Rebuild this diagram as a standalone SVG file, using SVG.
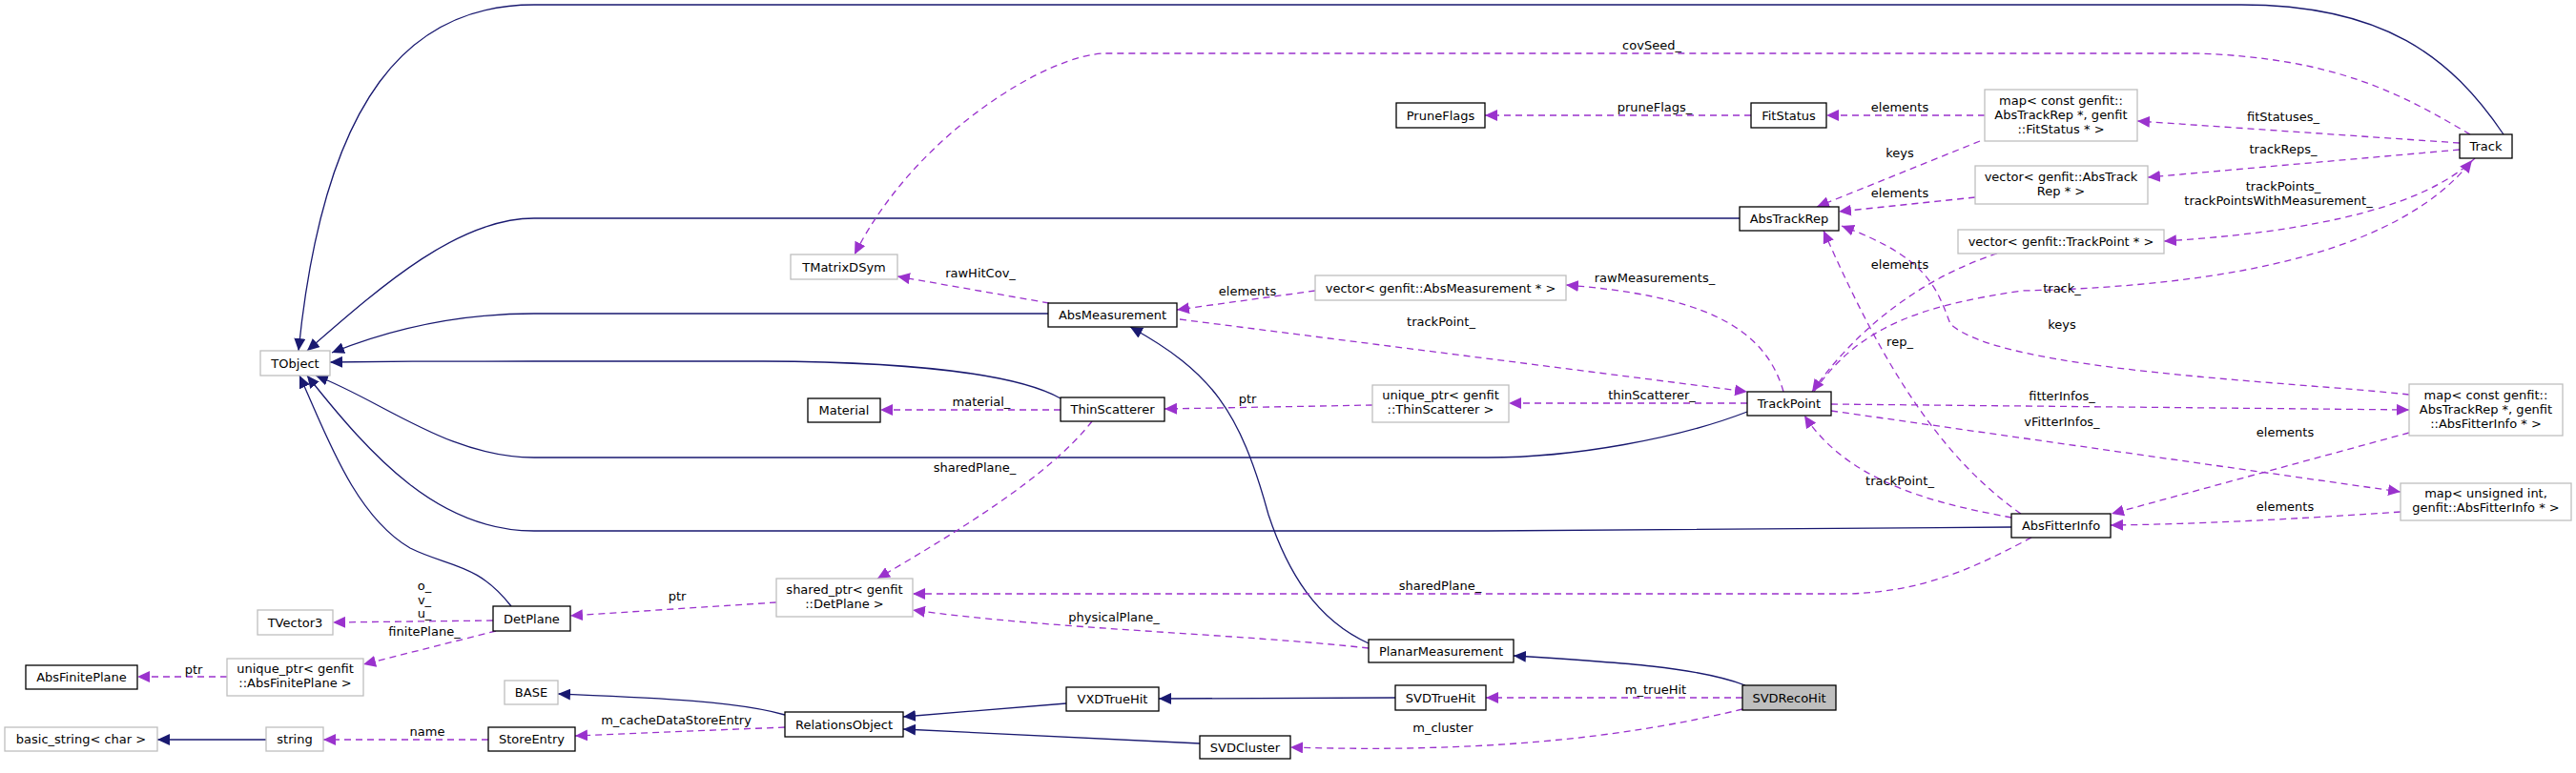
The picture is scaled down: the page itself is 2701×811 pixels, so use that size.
<svg xmlns="http://www.w3.org/2000/svg" width="2701" height="811" viewBox="0 0 2701 811">
<style>
text{font-family:"DejaVu Sans","Liberation Sans",sans-serif;font-size:13px;fill:#000;text-anchor:middle}
.n rect{fill:#fff;stroke:#000;stroke-width:1.3}
.g rect{fill:#fff;stroke:#bfbfbf;stroke-width:1.3}
.h rect{fill:#bfbfbf;stroke:#000;stroke-width:1.3}
.i{fill:none;stroke:#191970;stroke-width:1.3;marker-end:url(#ai)}
.c{fill:none;stroke:#9a32cd;stroke-width:1.3;stroke-dasharray:7,5;marker-end:url(#ac)}
.l{font-size:13px}
</style>
<defs>
<marker id="ai" markerUnits="userSpaceOnUse" markerWidth="14" markerHeight="12" refX="13" refY="6" orient="auto"><path d="M0,0L13,6L0,12z" fill="#191970"/></marker>
<marker id="ac" markerUnits="userSpaceOnUse" markerWidth="14" markerHeight="12" refX="13" refY="6" orient="auto"><path d="M0,0L13,6L0,12z" fill="#9a32cd"/></marker>
</defs>
<rect width="2701" height="811" fill="#fff"/>
<g id="edges">
<path class="i" d="M2625,141C2570,60 2500,5 2350,5L560,5C430,5 340,100 313,368"/>
<path class="i" d="M1824,229L560,229C480,229 400,300 322,368"/>
<path class="i" d="M1099,329L560,329C480,329 410,345 348,370"/>
<path class="i" d="M1112,418C1080,400 1000,380 800,379L560,379C480,379 420,379 346,380"/>
<path class="i" d="M1832,432C1760,460 1650,480 1560,480L560,480C470,480 400,420 331,394"/>
<path class="i" d="M2109,553L1560,557L560,557C460,557 390,480 322,394"/>
<path class="i" d="M536,636C500,590 470,595 430,575C370,540 340,450 314,394"/>
<path class="i" d="M1435,675C1380,650 1350,600 1330,540C1300,430 1270,390 1185,343"/>
<path class="i" d="M1830,719C1780,700 1700,695 1587,688"/>
<path class="i" d="M1463,732L1215,733"/>
<path class="i" d="M1118,738L947,752"/>
<path class="i" d="M1258,780L947,765"/>
<path class="i" d="M823,750C770,735 680,732 585,728"/>
<path class="i" d="M279,776L165,776"/>

<path class="c" d="M2590,141C2520,100 2450,60 2300,56L1160,56C1100,56 960,140 896,267"/>
<path class="c" d="M1836,121L1557,121"/>
<path class="c" d="M2081,121L1915,121"/>
<path class="c" d="M2076,148L1905,217"/>
<path class="c" d="M2579,150L2241,127"/>
<path class="c" d="M2579,157L2252,186"/>
<path class="c" d="M2071,207L1928,222"/>
<path class="c" d="M2595,166C2560,200 2480,240 2269,253"/>
<path class="c" d="M1902,411C1950,340 2020,320 2120,305C2350,300 2520,260 2592,168"/>
<path class="c" d="M2094,266C2020,290 1950,340 1900,411"/>
<path class="c" d="M1100,318L941,290"/>
<path class="c" d="M1379,305L1234,325"/>
<path class="c" d="M1870,411C1850,340 1780,310 1642,299"/>
<path class="c" d="M1237,335L1832,411"/>
<path class="c" d="M1832,423L1582,423"/>
<path class="c" d="M1439,425L1221,429"/>
<path class="c" d="M1112,430L923,430"/>
<path class="c" d="M1145,442C1100,500 1000,560 920,607"/>
<path class="c" d="M2526,414C2400,400 2100,390 2045,340C2030,300 2020,270 1931,237"/>
<path class="c" d="M1920,424L2526,430"/>
<path class="c" d="M1920,431L2517,516"/>
<path class="c" d="M2526,454L2214,539"/>
<path class="c" d="M2517,537C2400,545 2300,550 2213,551"/>
<path class="c" d="M2109,543C2040,530 1940,510 1892,436"/>
<path class="c" d="M2119,539C2020,470 1960,350 1912,242"/>
<path class="c" d="M2130,564C2080,590 2020,623 1930,623L957,623"/>
<path class="c" d="M1435,680C1300,665 1100,660 957,640"/>
<path class="c" d="M814,632L598,646"/>
<path class="c" d="M517,651L349,653"/>
<path class="c" d="M520,662L381,697"/>
<path class="c" d="M238,710L144,710"/>
<path class="c" d="M512,776L339,776"/>
<path class="c" d="M823,763L603,772"/>
<path class="c" d="M1827,732L1558,732"/>
<path class="c" d="M1827,744C1700,775 1550,790 1353,784"/>
</g>
<g id="labels">
<text x="1732" y="52">covSeed_</text>
<text x="1735" y="117">pruneFlags_</text>
<text x="1992" y="117">elements</text>
<text x="1992" y="165">keys</text>
<text x="1992" y="207">elements</text>
<text x="2394" y="127">fitStatuses_</text>
<text x="2394" y="161">trackReps_</text>
<text x="2394" y="200">trackPoints_</text>
<text x="2389" y="215">trackPointsWithMeasurement_</text>
<text x="1992" y="282">elements</text>
<text x="2162" y="307">track_</text>
<text x="2162" y="345">keys</text>
<text x="1992" y="363">rep_</text>
<text x="1028" y="291">rawHitCov_</text>
<text x="1308" y="310">elements</text>
<text x="1735" y="296">rawMeasurements_</text>
<text x="1511" y="342">trackPoint_</text>
<text x="1029" y="426">material_</text>
<text x="1308" y="423">ptr</text>
<text x="1732" y="419">thinScatterer_</text>
<text x="1022" y="495">sharedPlane_</text>
<text x="2162" y="420">fitterInfos_</text>
<text x="2162" y="447">vFitterInfos_</text>
<text x="2396" y="458">elements</text>
<text x="1992" y="509">trackPoint_</text>
<text x="2396" y="536">elements</text>
<text x="1510" y="619">sharedPlane_</text>
<text x="1168" y="652">physicalPlane_</text>
<text x="710" y="630">ptr</text>
<text x="445" y="619">o_</text>
<text x="445" y="634">v_</text>
<text x="445" y="648">u_</text>
<text x="445" y="667">finitePlane_</text>
<text x="203" y="707">ptr</text>
<text x="448" y="772">name</text>
<text x="709" y="760">m_cacheDataStoreEntry</text>
<text x="1736" y="728">m_trueHit</text>
<text x="1513" y="768">m_cluster</text>
</g>
<g id="TObject" class="g"><rect x="273" y="368" width="73" height="26"/><text x="309.5" y="386">TObject</text></g>
<g id="TMatrixDSym" class="g"><rect x="829" y="267" width="112" height="26"/><text x="885" y="285">TMatrixDSym</text></g>
<g id="PruneFlags" class="n"><rect x="1464" y="108" width="93" height="26"/><text x="1510.5" y="126">PruneFlags</text></g>
<g id="FitStatus" class="n"><rect x="1836" y="108" width="79" height="26"/><text x="1875.5" y="126">FitStatus</text></g>
<g id="mapFitStatus" class="g"><rect x="2081" y="94" width="160" height="54"/><text x="2161" y="110">map&lt; const genfit::</text><text x="2161" y="125">AbsTrackRep *, genfit</text><text x="2161" y="140">::FitStatus * &gt;</text></g>
<g id="vecAbsTrackRep" class="g"><rect x="2071" y="174" width="181" height="40"/><text x="2161" y="190">vector&lt; genfit::AbsTrack</text><text x="2161" y="205">Rep * &gt;</text></g>
<g id="vecTrackPoint" class="g"><rect x="2053" y="241" width="216" height="25"/><text x="2161" y="258">vector&lt; genfit::TrackPoint * &gt;</text></g>
<g id="Track" class="n"><rect x="2579" y="141" width="55" height="25"/><text x="2606.5" y="158">Track</text></g>
<g id="AbsTrackRep" class="n"><rect x="1824" y="217" width="104" height="25"/><text x="1876" y="234">AbsTrackRep</text></g>
<g id="AbsMeasurement" class="n"><rect x="1099" y="318" width="135" height="25"/><text x="1166.5" y="335">AbsMeasurement</text></g>
<g id="vecAbsMeasurement" class="g"><rect x="1379" y="289" width="263" height="26"/><text x="1510.5" y="307">vector&lt; genfit::AbsMeasurement * &gt;</text></g>
<g id="Material" class="n"><rect x="847" y="418" width="76" height="25"/><text x="885" y="435">Material</text></g>
<g id="ThinScatterer" class="n"><rect x="1112" y="417" width="109" height="25"/><text x="1166.5" y="434">ThinScatterer</text></g>
<g id="uptrThinScatterer" class="g"><rect x="1439" y="404" width="143" height="39"/><text x="1510.5" y="419">unique_ptr&lt; genfit</text><text x="1510.5" y="434">::ThinScatterer &gt;</text></g>
<g id="TrackPoint" class="n"><rect x="1832" y="411" width="88" height="25"/><text x="1876" y="428">TrackPoint</text></g>
<g id="mapAbsFitterInfo" class="g"><rect x="2526" y="403" width="161" height="54"/><text x="2606.5" y="419">map&lt; const genfit::</text><text x="2606.5" y="434">AbsTrackRep *, genfit</text><text x="2606.5" y="449">::AbsFitterInfo * &gt;</text></g>
<g id="mapUIntAbsFitterInfo" class="g"><rect x="2517" y="507" width="179" height="39"/><text x="2606.5" y="522">map&lt; unsigned int,</text><text x="2606.5" y="537">genfit::AbsFitterInfo * &gt;</text></g>
<g id="AbsFitterInfo" class="n"><rect x="2109" y="539" width="104" height="25"/><text x="2161" y="556">AbsFitterInfo</text></g>
<g id="sptrDetPlane" class="g"><rect x="814" y="607" width="143" height="40"/><text x="885.5" y="623">shared_ptr&lt; genfit</text><text x="885.5" y="638">::DetPlane &gt;</text></g>
<g id="DetPlane" class="n"><rect x="517" y="636" width="81" height="26"/><text x="557.5" y="654">DetPlane</text></g>
<g id="TVector3" class="g"><rect x="270" y="640" width="79" height="26"/><text x="309.5" y="658">TVector3</text></g>
<g id="uptrAbsFinitePlane" class="g"><rect x="238" y="691" width="143" height="39"/><text x="309.5" y="706">unique_ptr&lt; genfit</text><text x="309.5" y="721">::AbsFinitePlane &gt;</text></g>
<g id="AbsFinitePlane" class="n"><rect x="27" y="698" width="117" height="25"/><text x="85.5" y="715">AbsFinitePlane</text></g>
<g id="PlanarMeasurement" class="n"><rect x="1435" y="671" width="152" height="24"/><text x="1511" y="688">PlanarMeasurement</text></g>
<g id="BASE" class="g"><rect x="529" y="714" width="56" height="25"/><text x="557" y="731">BASE</text></g>
<g id="RelationsObject" class="n"><rect x="823" y="747" width="124" height="26"/><text x="885" y="765">RelationsObject</text></g>
<g id="VXDTrueHit" class="n"><rect x="1118" y="721" width="97" height="25"/><text x="1166.5" y="738">VXDTrueHit</text></g>
<g id="SVDTrueHit" class="n"><rect x="1463" y="719" width="95" height="26"/><text x="1510.5" y="737">SVDTrueHit</text></g>
<g id="SVDRecoHit" class="h"><rect x="1827" y="719" width="98" height="26"/><text x="1876" y="737">SVDRecoHit</text></g>
<g id="SVDCluster" class="n"><rect x="1258" y="772" width="95" height="24"/><text x="1305.5" y="789">SVDCluster</text></g>
<g id="basic_string" class="g"><rect x="5" y="763" width="160" height="25"/><text x="85" y="780">basic_string&lt; char &gt;</text></g>
<g id="string" class="g"><rect x="279" y="763" width="60" height="25"/><text x="309" y="780">string</text></g>
<g id="StoreEntry" class="n"><rect x="512" y="763" width="91" height="25"/><text x="557.5" y="780">StoreEntry</text></g>
</svg>
